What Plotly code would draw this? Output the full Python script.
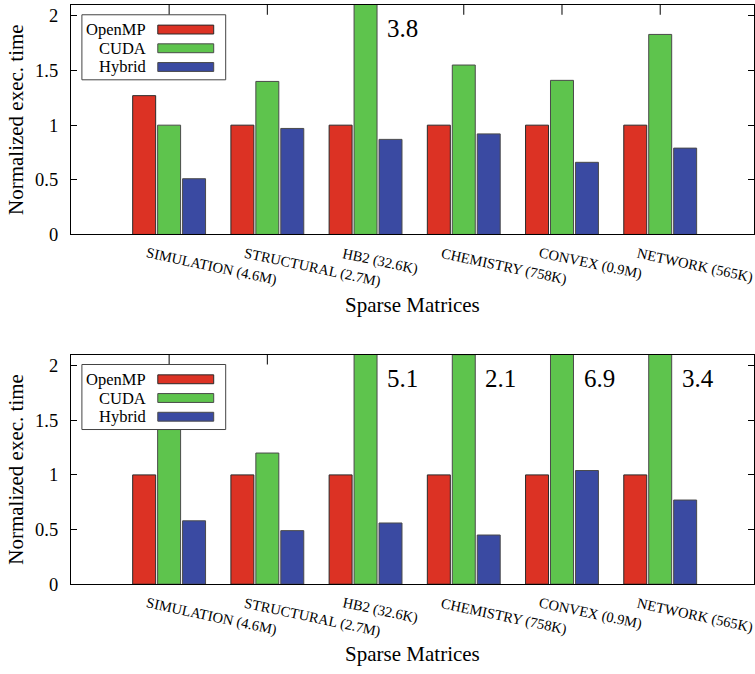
import plotly.graph_objects as go

# ---------------- data ----------------
categories = ["SIMULATION (4.6M)", "STRUCTURAL (2.7M)", "HB2 (32.6K)",
              "CHEMISTRY (758K)", "CONVEX (0.9M)", "NETWORK (565K)"]
series_names = ["OpenMP", "CUDA", "Hybrid"]

top_openmp = [1.27, 1.0, 1.0, 1.0, 1.0, 1.0]
top_cuda = [1.0, 1.40, 3.8, 1.55, 1.41, 1.83]
top_hybrid = [0.51, 0.97, 0.87, 0.92, 0.66, 0.79]

bot_openmp = [1.0, 1.0, 1.0, 1.0, 1.0, 1.0]
bot_cuda = [1.43, 1.20, 5.1, 2.1, 6.9, 3.4]
bot_hybrid = [0.58, 0.49, 0.56, 0.45, 1.04, 0.77]

y_ticks = [0, 0.5, 1, 1.5, 2]
y_tick_text = ["0", "0.5", "1", "1.5", "2"]
y_max = 2.1

# ---------------- styling ----------------
W, H = 755, 674
FONT = "Liberation Serif, Times New Roman, serif"
colors = ["#DC3224", "#5EC44D", "#3A4AA2"]
edge_colors = ["#2a2a2a", "#4a4a4a", "#4a4a4a"]


def px(x):
    return x / W


def py(y):
    return 1 - y / H


x_pos = list(range(len(categories)))

panels = [
    dict(x="x", y="y", top=5, bottom=238,
         values=[top_openmp, top_cuda, top_hybrid]),
    dict(x="x2", y="y2", top=360, bottom=593,
         values=[bot_openmp, bot_cuda, bot_hybrid]),
]

fig = go.Figure()
annotations = []
shapes = []

for p in panels:
    for name, vals, col, ecol in zip(series_names, p["values"], colors, edge_colors):
        fig.add_trace(go.Bar(
            x=x_pos, y=vals, name=name, xaxis=p["x"], yaxis=p["y"],
            marker=dict(color=col, line=dict(color=ecol, width=1)),
            showlegend=False, hovertext=categories,
        ))
    # values beyond the axis range
    for i, v in enumerate(p["values"][1]):
        if v >= y_max:
            annotations.append(dict(
                x=i + 0.2, y=1.88, xref=p["x"], yref=p["y"], text=f"{v}",
                showarrow=False, xanchor="left", yanchor="middle",
                font=dict(family=FONT, size=25, color="black")))
    # rotated category labels
    for i, c in enumerate(categories):
        annotations.append(dict(
            x=i - 0.275, y=py(p["bottom"] + 8), xref=p["x"], yref="paper",
            text=c, showarrow=False, textangle=12,
            xanchor="left", yanchor="top",
            font=dict(family=FONT, size=14.5, color="black")))
    # tick marks on the top border
    for i in x_pos:
        shapes.append(dict(type="line", xref=p["x"], yref=p["y"] + " domain",
                           x0=i, x1=i, y0=1 - 10 / 233, y1=1, layer="below",
                           line=dict(color="black", width=1)))
    # legend box
    t = p["top"]
    shapes.append(dict(type="rect", xref="paper", yref="paper",
                       x0=px(82), x1=px(226), y0=py(t + 10), y1=py(t + 76),
                       line=dict(color="#444", width=1), fillcolor="white"))
    for j, (name, col, ecol) in enumerate(zip(series_names, colors, edge_colors)):
        yc = t + 25 + 19 * j
        annotations.append(dict(
            x=px(148), y=py(yc), xref="paper", yref="paper", text=name,
            showarrow=False, xanchor="right", yanchor="middle",
            font=dict(family=FONT, size=16.5, color="black")))
        shapes.append(dict(type="rect", xref="paper", yref="paper",
                           x0=px(158), x1=px(214), y0=py(yc - 4.5), y1=py(yc + 4.5),
                           line=dict(color=ecol, width=1), fillcolor=col))

axis_common_x = dict(
    range=[-1, 5.955], showgrid=False, zeroline=False, showline=True,
    linecolor="black", linewidth=1, mirror=True, ticks="",
    tickvals=x_pos, showticklabels=False,
    title=dict(text="Sparse Matrices", font=dict(family=FONT, size=21, color="black"),
               standoff=62),
)
axis_common_y = dict(
    range=[0, y_max], showgrid=False, zeroline=False, showline=True,
    linecolor="black", linewidth=1, mirror="ticks", ticks="inside", ticklen=6,
    tickcolor="black", tickvals=y_ticks, ticktext=y_tick_text,
    tickfont=dict(family=FONT, size=18.5, color="black"), ticklabelstandoff=8,
    title=dict(text="Normalized exec. time", font=dict(family=FONT, size=21, color="black"),
               standoff=5),
)

fig.update_layout(
    width=W, height=H, margin=dict(l=0, r=0, t=0, b=0),
    plot_bgcolor="white", paper_bgcolor="white",
    barmode="group", bargap=0.238, bargroupgap=0.079,
    xaxis=dict(axis_common_x, domain=[px(71), 1.0], anchor="y"),
    yaxis=dict(axis_common_y, domain=[py(238), py(5)], anchor="x"),
    xaxis2=dict(axis_common_x, domain=[px(71), 1.0], anchor="y2"),
    yaxis2=dict(axis_common_y, domain=[py(593), py(360)], anchor="x2"),
    annotations=annotations, shapes=shapes, showlegend=False,
)

fig.write_html("out.html", config={"displayModeBar": False},
               post_script="document.body.style.margin='0';")
